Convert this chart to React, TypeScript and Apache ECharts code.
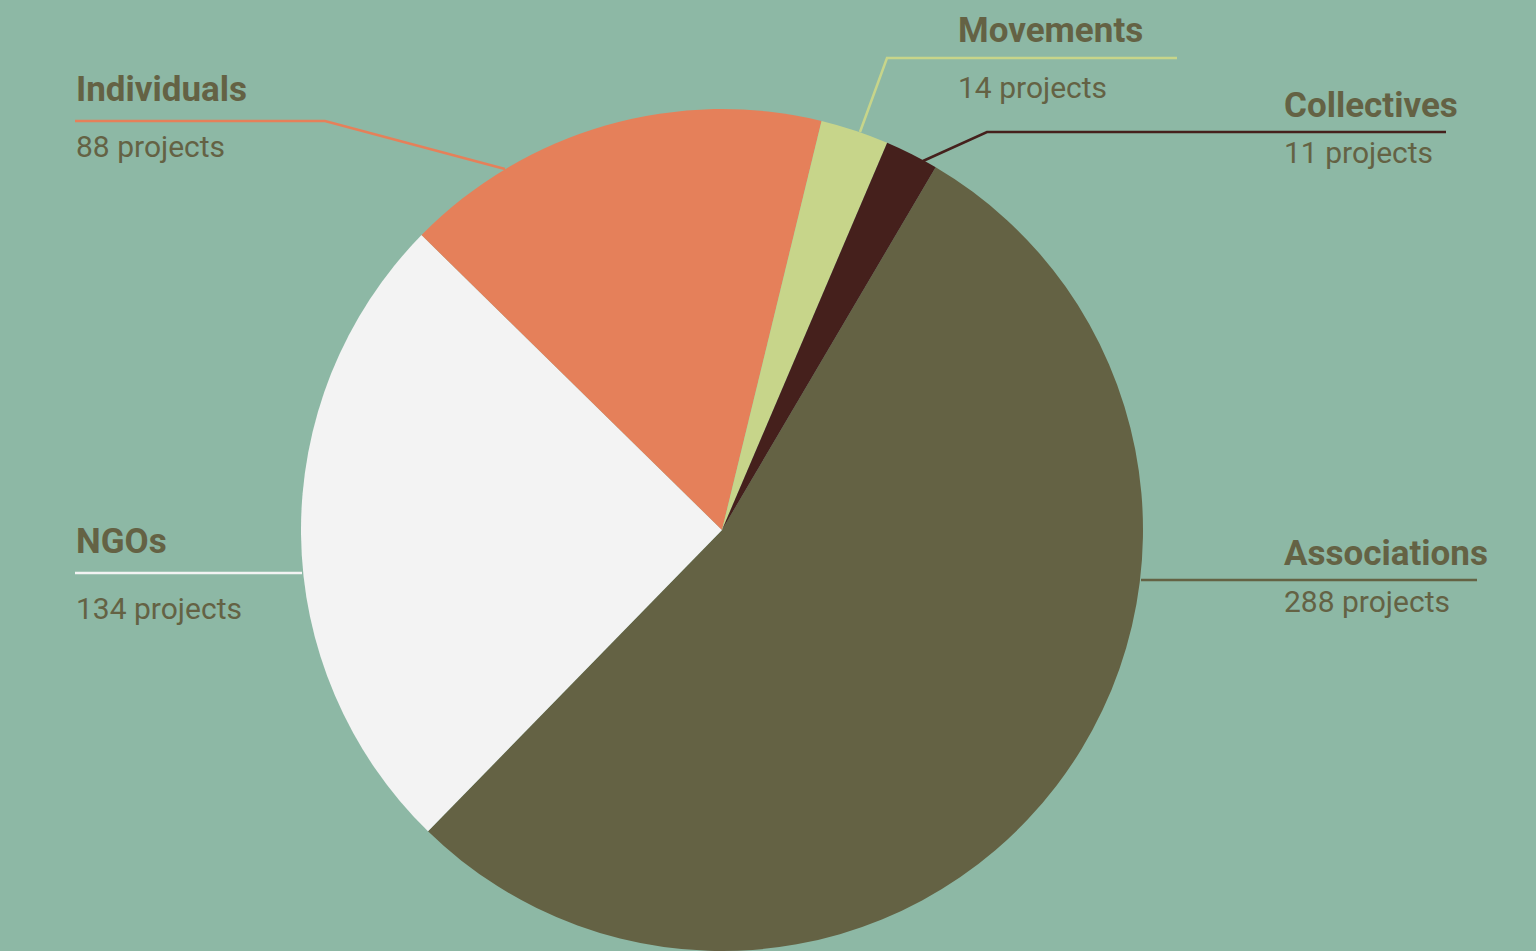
import React, { useEffect, useRef } from "react";
import * as echarts from "echarts";

const categories = ["Associations", "NGOs", "Individuals", "Movements", "Collectives"];
const projectCounts = [288, 134, 88, 14, 11];
const sliceColors = ["#646244", "#f3f3f3", "#e5805a", "#c7d58a", "#45201c"];

const BG = "#8db8a5";
const TEXT = "#646244";

// Annotation layout (pixels): text anchor, centre of name line, centre of value line, leader line
const labelPlacement: Record<string, { x: number; nameC: number; valueC: number; line: number[][] }> = {
  Associations: { x: 1284, nameC: 553, valueC: 601.5, line: [[1141, 580], [1310, 580], [1477, 580]] },
  NGOs: { x: 76, nameC: 541, valueC: 608.5, line: [[302, 573], [190, 573], [75, 573]] },
  Individuals: { x: 76, nameC: 89, valueC: 146.5, line: [[505, 169], [325, 121], [75, 121]] },
  Movements: { x: 958, nameC: 30.5, valueC: 87.5, line: [[860, 132], [887, 58], [1177, 58]] },
  Collectives: { x: 1284, nameC: 105, valueC: 152.5, line: [[923, 161], [987, 132], [1446, 132]] },
};

const VALUE_LH = 30;

export default function App() {
  const ref = useRef<HTMLDivElement>(null);

  useEffect(() => {
    document.body.style.margin = "0";
    if (!ref.current) return;
    const chart = echarts.init(ref.current, null, { renderer: "svg" });

    const data = categories.map((name, i) => {
      const p = labelPlacement[name];
      const nameLH = 2 * (p.valueC - p.nameC) - VALUE_LH;
      return {
        name,
        value: projectCounts[i],
        itemStyle: { color: sliceColors[i] },
        label: {
          rich: {
            n: {
              fontFamily: "Roboto",
              fontWeight: "bold",
              fontSize: 35,
              color: TEXT,
              lineHeight: nameLH,
            },
            v: {
              fontFamily: "Roboto",
              fontWeight: "normal",
              fontSize: 30,
              color: TEXT,
              lineHeight: VALUE_LH,
            },
          },
        },
      };
    });

    chart.setOption({
      animation: false,
      backgroundColor: BG,
      series: [
        {
          type: "pie",
          center: [722, 530],
          radius: 421,
          startAngle: 59.5,
          clockwise: true,
          avoidLabelOverlap: false,
          minShowLabelAngle: 0,
          emphasis: { disabled: true },
          itemStyle: { borderWidth: 0 },
          data,
          label: {
            show: true,
            position: "outside",
            formatter: (params: any) => `{n|${params.name}}\n{v|${params.value} projects}`,
          },
          labelLine: {
            show: true,
            smooth: false,
            lineStyle: { width: 2.5 },
          },
          labelLayout: (params: any) => {
            const name = categories[params.dataIndex];
            const p = labelPlacement[name];
            const nameLH = 2 * (p.valueC - p.nameC) - VALUE_LH;
            return {
              x: p.x,
              y: p.nameC - nameLH / 2,
              align: "left",
              verticalAlign: "top",
              labelLinePoints: p.line,
            };
          },
        },
      ],
    });

    return () => chart.dispose();
  }, []);

  return <div ref={ref} style={{ width: 1536, height: 951 }} />;
}
